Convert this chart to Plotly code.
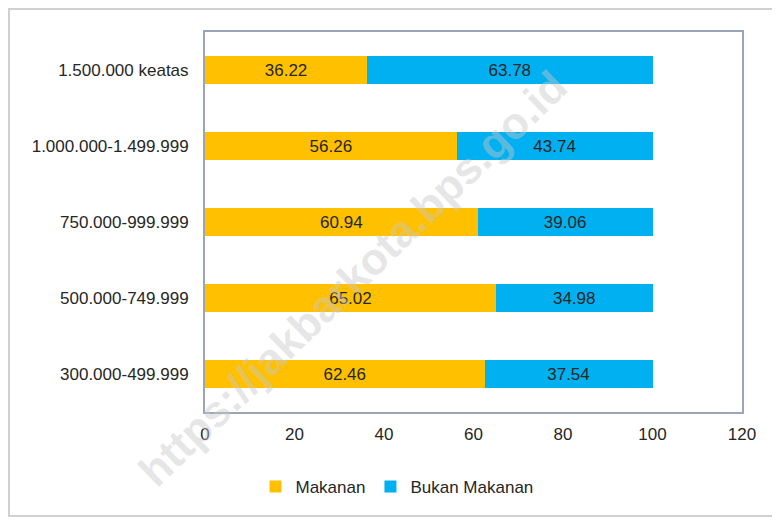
import plotly.graph_objects as go

categories = ["300.000-499.999", "500.000-749.999", "750.000-999.999",
              "1.000.000-1.499.999", "1.500.000 keatas"]
makanan = [62.46, 65.02, 60.94, 56.26, 36.22]
bukan_makanan = [37.54, 34.98, 39.06, 43.74, 63.78]
x_ticks = [0, 20, 40, 60, 80, 100, 120]

FONT = "Liberation Sans"
TXT = "#262626"
FS = 17

# page body has an 8px margin, so the figure is laid out 8px up/left
W, H = 772, 512
L, T = 197, 24
PR, PB = 734, 404  # plot right / bottom in figure px
PW, PH = PR - L, PB - T

def px(x):
    return (x - 8 - L) / PW

def py(y):
    return (PB - (y - 8)) / PH

fig = go.Figure()
fig.add_trace(go.Bar(
    y=categories, x=makanan, name="Makanan", orientation="h",
    marker=dict(color="#FFC000", line=dict(width=0)),
    text=[f"{v:.2f}" for v in makanan], textposition="inside",
    insidetextanchor="middle", textfont=dict(family=FONT, size=FS, color=TXT),
))
fig.add_trace(go.Bar(
    y=categories, x=bukan_makanan, name="Bukan Makanan", orientation="h",
    marker=dict(color="#00B0F0", line=dict(width=0)),
    text=[f"{v:.2f}" for v in bukan_makanan], textposition="inside",
    insidetextanchor="middle", textfont=dict(family=FONT, size=FS, color=TXT),
))

fig.update_layout(
    width=W, height=H,
    margin=dict(l=L, r=W - PR, t=T, b=H - PB),
    barmode="stack", bargap=0.63,
    paper_bgcolor="white", plot_bgcolor="white",
    font=dict(family=FONT, size=FS, color=TXT),
    showlegend=True,
    legend=dict(orientation="h", x=px(397), xanchor="center", y=py(487),
                yanchor="middle", font=dict(family=FONT, size=FS, color=TXT),
                traceorder="normal", itemwidth=30),
    xaxis=dict(range=[0, 120], tickvals=x_ticks, showgrid=False, zeroline=False,
               showline=True, mirror=True, linecolor="#9AA5BA", linewidth=2,
               ticks="outside", ticklen=6, tickcolor="rgba(0,0,0,0)",
               tickfont=dict(size=FS, color=TXT), fixedrange=True),
    yaxis=dict(categoryorder="array", categoryarray=categories, showgrid=False,
               showline=True, mirror=True, linecolor="#9AA5BA", linewidth=2,
               ticks="outside", ticklen=11, tickcolor="rgba(0,0,0,0)",
               tickfont=dict(size=FS, color=TXT), fixedrange=True),
    shapes=[dict(type="rect", xref="paper", yref="paper",
                 x0=px(9), x1=px(776), y0=py(516), y1=py(9),
                 line=dict(color="#D0D0D0", width=2), layer="below")],
    annotations=[dict(text="<b>https://jakbarkota.bps.go.id</b>", xref="paper",
                      yref="paper", x=px(352), y=py(278), xanchor="center",
                      yanchor="middle", showarrow=False, textangle=-44,
                      font=dict(family=FONT, size=44, color="rgba(200,200,200,0.45)"))],
)

fig.write_html("out.html")
